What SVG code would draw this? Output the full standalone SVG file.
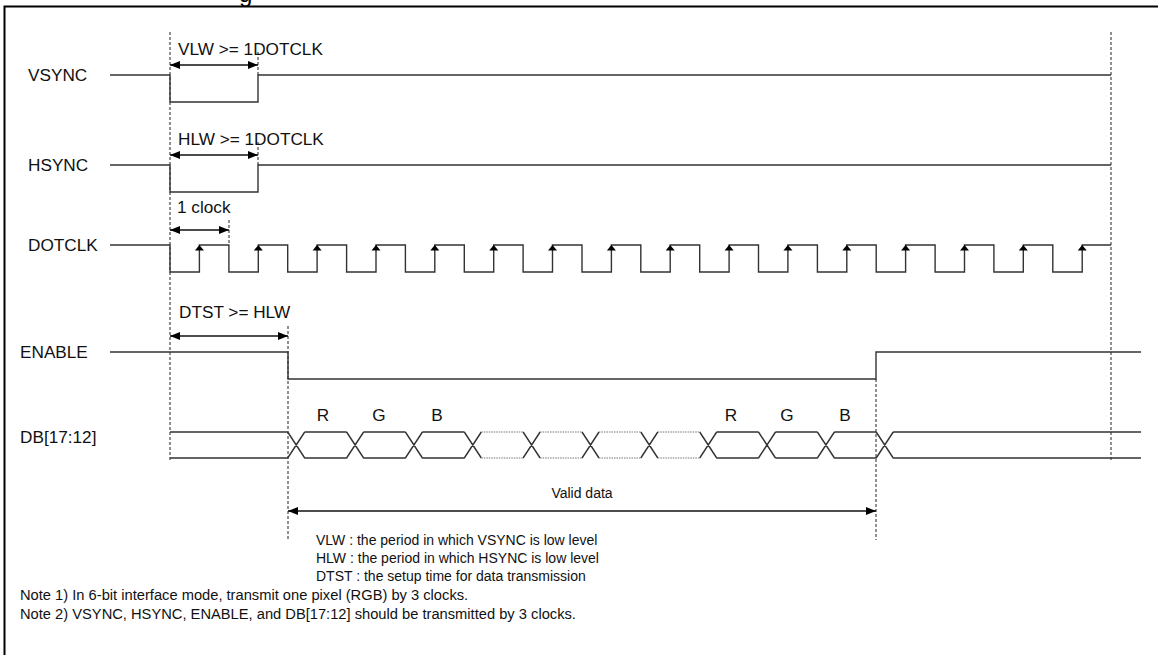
<svg xmlns="http://www.w3.org/2000/svg" xmlns:xlink="http://www.w3.org/1999/xlink" width="1158" height="655" viewBox="0 0 1158 655">
<style>
.sig{fill:none;stroke:#333;stroke-width:1.4}
.dot{fill:none;stroke:#777;stroke-width:1.2;stroke-dasharray:1.5 1}
.dash{fill:none;stroke:#222;stroke-width:1;stroke-dasharray:3 2}
.arr{fill:none;stroke:#111;stroke-width:1.3;marker-start:url(#ah);marker-end:url(#ah)}
.lbl{font-family:"Liberation Sans",Arial,sans-serif;font-size:17.2px;fill:#111}
.sm{font-family:"Liberation Sans",Arial,sans-serif;font-size:14px;fill:#111}
.note{font-family:"Liberation Sans",Arial,sans-serif;font-size:14.7px;fill:#111}
.brd{fill:none;stroke:#000;stroke-width:2}
</style>
<defs>
<marker id="ah" viewBox="0 0 10 8" refX="10" refY="4" markerWidth="10" markerHeight="8" markerUnits="userSpaceOnUse" orient="auto-start-reverse">
<path d="M0,0 L10,4 L0,8 Z" fill="#000"/>
</marker>
<path id="ua" d="M0,0 L-4.5,5.5 L4.5,5.5 Z" fill="#000"/>
</defs>
<rect width="1158" height="655" fill="#fff"/>
<text x="239" y="1.5" font-family="Liberation Sans,Arial,sans-serif" font-size="24" fill="#000">g</text>
<path class="brd" d="M4.5,655 V6.5 H1158"/>

<g id="guides">
<path class="dash" d="M170,32 V460 M1111,32 V460 M258,52 V75 M258,142 V165 M229,220 V245 M288,326 V540 M876,379 V540"/>
</g>

<g id="vsync">
<text class="lbl" x="28" y="81">VSYNC</text>
<path class="sig" d="M110,75 H170 V102 H258 V75 H1111"/>
</g>
<g id="hsync">
<text class="lbl" x="28" y="171">HSYNC</text>
<path class="sig" d="M110,165 H170 V192 H258 V165 H1111"/>
</g>
<g id="dotclk">
<text class="lbl" x="28" y="251">DOTCLK</text>
<path class="sig" d="M110,245 H170 V272 H199.4 V245 H228.9 V272 H258.3 V245 H287.7 V272 H317.1 V245 H346.6 V272 H376 V245 H405.4 V272 H434.8 V245 H464.3 V272 H493.7 V245 H523.1 V272 H552.5 V245 H582 V272 H611.4 V245 H640.8 V272 H670.2 V245 H699.7 V272 H729.1 V245 H758.5 V272 H787.9 V245 H817.4 V272 H846.8 V245 H876.2 V272 H905.6 V245 H935.1 V272 H964.5 V245 H993.9 V272 H1023.3 V245 H1052.8 V272 H1082.2 V245 H1111"/>
<use xlink:href="#ua" x="199.4" y="245"/>
<use xlink:href="#ua" x="258.3" y="245"/>
<use xlink:href="#ua" x="317.1" y="245"/>
<use xlink:href="#ua" x="376" y="245"/>
<use xlink:href="#ua" x="434.8" y="245"/>
<use xlink:href="#ua" x="493.7" y="245"/>
<use xlink:href="#ua" x="552.5" y="245"/>
<use xlink:href="#ua" x="611.4" y="245"/>
<use xlink:href="#ua" x="670.2" y="245"/>
<use xlink:href="#ua" x="729.1" y="245"/>
<use xlink:href="#ua" x="787.9" y="245"/>
<use xlink:href="#ua" x="846.8" y="245"/>
<use xlink:href="#ua" x="905.6" y="245"/>
<use xlink:href="#ua" x="964.5" y="245"/>
<use xlink:href="#ua" x="1023.3" y="245"/>
<use xlink:href="#ua" x="1082.2" y="245"/>
</g>
<g id="enable">
<text class="lbl" x="20" y="358">ENABLE</text>
<path class="sig" d="M110,352 H288 V379 H876 V352 H1141"/>
</g>
<g id="db">
<text class="lbl" x="20" y="443">DB[17:12]</text>
<path class="sig" d="M170,432 H287.7 M170,458 H287.7
M287.7,432 L304.7,458 M287.7,458 L304.7,432
M304.7,432 H346.6 M304.7,458 H346.6
M346.6,432 L363.6,458 M346.6,458 L363.6,432
M363.6,432 H405.4 M363.6,458 H405.4
M405.4,432 L422.4,458 M405.4,458 L422.4,432
M422.4,432 H464.3 M422.4,458 H464.3
M464.3,432 L481.3,458 M464.3,458 L481.3,432
M523.1,432 L540.1,458 M523.1,458 L540.1,432
M582,432 L599,458 M582,458 L599,432
M640.8,432 L657.8,458 M640.8,458 L657.8,432
M699.7,432 L716.7,458 M699.7,458 L716.7,432
M716.7,432 H758.5 M716.7,458 H758.5
M758.5,432 L775.5,458 M758.5,458 L775.5,432
M775.5,432 H817.4 M775.5,458 H817.4
M817.4,432 L834.4,458 M817.4,458 L834.4,432
M834.4,432 H876.2 M834.4,458 H876.2
M876.2,432 L893.2,458 M876.2,458 L893.2,432
M893.2,432 H1141 M893.2,458 H1141"/>
<path class="dot" d="M481.3,432 H523.1 M481.3,458 H523.1 M540.1,432 H582 M540.1,458 H582 M599,432 H640.8 M599,458 H640.8 M657.8,432 H699.7 M657.8,458 H699.7"/>
<text class="lbl" x="323" y="421" text-anchor="middle">R</text>
<text class="lbl" x="379" y="421" text-anchor="middle">G</text>
<text class="lbl" x="437" y="421" text-anchor="middle">B</text>
<text class="lbl" x="731" y="421" text-anchor="middle">R</text>
<text class="lbl" x="787" y="421" text-anchor="middle">G</text>
<text class="lbl" x="845" y="421" text-anchor="middle">B</text>
</g>

<g id="connectors">
<path class="arr" d="M170,65 H258"/>
<path class="arr" d="M170,155 H258"/>
<path class="arr" d="M170,230 H229"/>
<path class="arr" d="M170,336 H288"/>
<path class="arr" d="M288,511 H876"/>
</g>

<g id="annotations">
<text class="lbl" x="178" y="55">VLW &gt;= 1DOTCLK</text>
<text class="lbl" x="178" y="145">HLW &gt;= 1DOTCLK</text>
<text class="lbl" x="177" y="213">1 clock</text>
<text class="lbl" x="179" y="318">DTST &gt;= HLW</text>
<text class="sm" x="582" y="498" text-anchor="middle" font-size="15">Valid data</text>
<text class="sm" x="316" y="545">VLW : the period in which VSYNC is low level</text>
<text class="sm" x="316" y="563">HLW : the period in which HSYNC is low level</text>
<text class="sm" x="316" y="581">DTST : the setup time for data transmission</text>
<text class="note" x="20" y="600">Note 1) In 6-bit interface mode, transmit one pixel (RGB) by 3 clocks.</text>
<text class="note" x="20" y="619">Note 2) VSYNC, HSYNC, ENABLE, and DB[17:12] should be transmitted by 3 clocks.</text>
</g>
</svg>
